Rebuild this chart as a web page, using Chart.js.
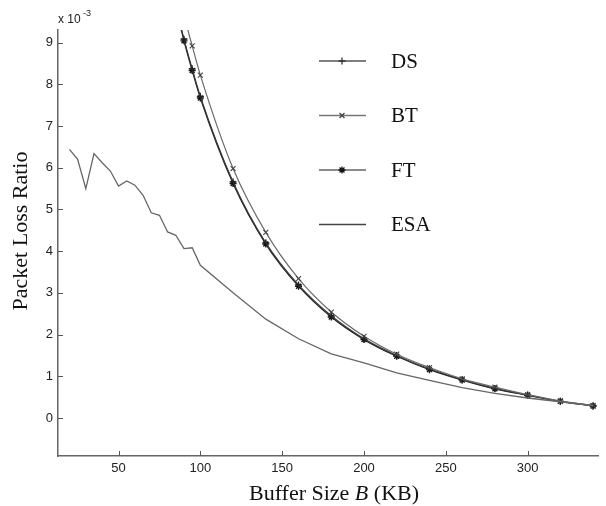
<!DOCTYPE html>
<html>
<head>
<meta charset="utf-8">
<script src="https://cdn.jsdelivr.net/npm/chart.js@4/dist/chart.umd.min.js"></script>
<style>
  html, body { margin: 0; padding: 0; background: #fff; }
  #wrap { width: 606px; height: 506px; }
</style>
</head>
<body>
<div id="wrap"><canvas id="c" width="606" height="506"></canvas></div>
<script>
// --- Data (values in units of 1e-3) ---
const xEsa = [20, 25, 30, 35, 40, 45, 50, 55, 60, 65, 70, 75, 80, 85, 90, 95, 100,
              120, 140, 160, 180, 200, 220, 240, 260, 280, 300, 320, 340];
const esa  = [6.44, 6.20, 5.50, 6.34, 6.12, 5.92, 5.56, 5.68, 5.58, 5.34, 4.92, 4.86, 4.46, 4.38, 4.06, 4.08, 3.66,
              3.00, 2.37, 1.90, 1.54, 1.32, 1.08, 0.90, 0.73, 0.59, 0.48, 0.39, 0.30];

const xMark = [80, 90, 95, 100, 120, 140, 160, 180, 200, 220, 240, 260, 280, 300, 320, 340];
const ds = [10.75, 9.08, 8.37, 7.71, 5.66, 4.20, 3.19, 2.45, 1.90, 1.50, 1.18, 0.92, 0.71, 0.55, 0.40, 0.29];
const bt = [11.30, 9.65, 8.92, 8.22, 5.98, 4.45, 3.34, 2.54, 1.96, 1.53, 1.21, 0.94, 0.74, 0.56, 0.41, 0.30];
const ft = [10.70, 9.04, 8.33, 7.67, 5.62, 4.17, 3.16, 2.42, 1.88, 1.48, 1.16, 0.91, 0.70, 0.545, 0.40, 0.29];

const xTicks = [50, 100, 150, 200, 250, 300];
const yTicks = [0, 1, 2, 3, 4, 5, 6, 7, 8, 9];

const legendItems = [
  { label: 'DS',  style: 'cross',    color: '#333', line: '#555' },
  { label: 'BT',  style: 'crossRot', color: '#444', line: '#777' },
  { label: 'FT',  style: 'star',     color: '#111', line: '#666' },
  { label: 'ESA', style: false,      color: '#333', line: '#444' }
];

const pts = (xs, ys) => xs.map((x, i) => ({ x, y: ys[i] }));

// --- Inward ticks, legend, axis titles ---
const decor = {
  id: 'decor',
  afterDatasetsDraw(chart) {
    const { ctx, chartArea: a, scales: { x, y } } = chart;
    ctx.save();
    ctx.strokeStyle = '#555';
    ctx.lineWidth = 1;
    x.ticks.forEach((t, i) => {
      const px = Math.round(x.getPixelForTick(i)) + 0.5;
      ctx.beginPath(); ctx.moveTo(px, a.bottom); ctx.lineTo(px, a.bottom - 5); ctx.stroke();
    });
    y.ticks.forEach((t, i) => {
      const py = Math.round(y.getPixelForTick(i)) + 0.5;
      ctx.beginPath(); ctx.moveTo(a.left, py); ctx.lineTo(a.left + 5, py); ctx.stroke();
    });

    // legend
    legendItems.forEach((it, i) => {
      const ly = 61 + i * 54.5;
      ctx.strokeStyle = it.line;
      ctx.lineWidth = 1.3;
      ctx.beginPath(); ctx.moveTo(319, ly); ctx.lineTo(366, ly); ctx.stroke();
      if (it.style) {
        ctx.strokeStyle = it.color;
        ctx.fillStyle = it.color;
        Chart.helpers.drawPoint(ctx, {
          pointStyle: it.style, radius: 3.5, rotation: 0, borderWidth: 1.2
        }, 342, ly);
      }
      ctx.fillStyle = '#111';
      ctx.font = '21px "Liberation Serif", serif';
      ctx.textAlign = 'left';
      ctx.textBaseline = 'middle';
      ctx.fillText(it.label, 391, ly + 1);
    });

    // exponent label
    ctx.fillStyle = '#222';
    ctx.font = '12px "Liberation Sans", sans-serif';
    ctx.textAlign = 'left';
    ctx.textBaseline = 'alphabetic';
    ctx.fillText('x 10', 58, 23);
    ctx.font = '9px "Liberation Sans", sans-serif';
    ctx.fillText('-3', 83, 16);

    // y title
    ctx.fillStyle = '#111';
    ctx.font = '22px "Liberation Serif", serif';
    ctx.save();
    ctx.translate(21, 231);
    ctx.rotate(-Math.PI / 2);
    ctx.textAlign = 'center';
    ctx.textBaseline = 'middle';
    ctx.fillText('Packet Loss Ratio', 0, 0);
    ctx.restore();

    // x title with italic B
    const parts = [
      { t: 'Buffer Size ', f: '22px "Liberation Serif", serif' },
      { t: 'B', f: 'italic 22px "Liberation Serif", serif' },
      { t: ' (KB)', f: '22px "Liberation Serif", serif' }
    ];
    let w = 0;
    parts.forEach(p => { ctx.font = p.f; w += ctx.measureText(p.t).width; });
    let cx = 334 - w / 2;
    ctx.textAlign = 'left';
    ctx.textBaseline = 'middle';
    parts.forEach(p => { ctx.font = p.f; ctx.fillText(p.t, cx, 494); cx += ctx.measureText(p.t).width; });
    ctx.restore();
  }
};

const markRadius = xMark.map((x, i) => (i === 0 ? 0 : 3.5));

new Chart(document.getElementById('c'), {
  type: 'line',
  data: {
    datasets: [
      { label: 'ESA', data: pts(xEsa, esa), borderColor: '#666', borderWidth: 1.3,
        pointRadius: 0, tension: 0 },
      { label: 'BT', data: pts(xMark, bt), borderColor: '#6a6a6a', borderWidth: 1.2,
        pointStyle: 'crossRot', pointRadius: markRadius, pointBorderColor: '#444',
        pointBorderWidth: 1.1, cubicInterpolationMode: 'monotone' },
      { label: 'DS', data: pts(xMark, ds), borderColor: '#3a3a3a', borderWidth: 1.2,
        pointStyle: 'cross', pointRadius: markRadius, pointBorderColor: '#222',
        pointBorderWidth: 1.2, cubicInterpolationMode: 'monotone' },
      { label: 'FT', data: pts(xMark, ft), borderColor: '#222', borderWidth: 1.3,
        pointStyle: 'star', pointRadius: markRadius, pointBorderColor: '#111',
        pointBorderWidth: 1.4, cubicInterpolationMode: 'monotone' }
    ]
  },
  options: {
    responsive: false,
    animation: false,
    layout: { padding: { top: 30, right: 8, left: 0, bottom: 0 } },
    plugins: { legend: { display: false }, tooltip: { enabled: false } },
    scales: {
      x: {
        type: 'linear', min: 13, max: 343,
        afterBuildTicks: s => { s.ticks = xTicks.map(v => ({ value: v })); },
        afterFit: s => { s.height = 50; },
        grid: { drawOnChartArea: false, drawTicks: false },
        border: { color: '#666', width: 1.5 },
        ticks: { color: '#222', padding: 5, font: { family: '"Liberation Sans", sans-serif', size: 13 } }
      },
      y: {
        type: 'linear', min: -0.91, max: 9.3,
        afterBuildTicks: s => { s.ticks = yTicks.map(v => ({ value: v })); },
        afterFit: s => { s.width = 58; },
        grid: { drawOnChartArea: false, drawTicks: false },
        border: { color: '#666', width: 1.5 },
        ticks: { color: '#222', padding: 5, font: { family: '"Liberation Sans", sans-serif', size: 13 } }
      }
    }
  },
  plugins: [decor]
});
</script>
</body>
</html>
